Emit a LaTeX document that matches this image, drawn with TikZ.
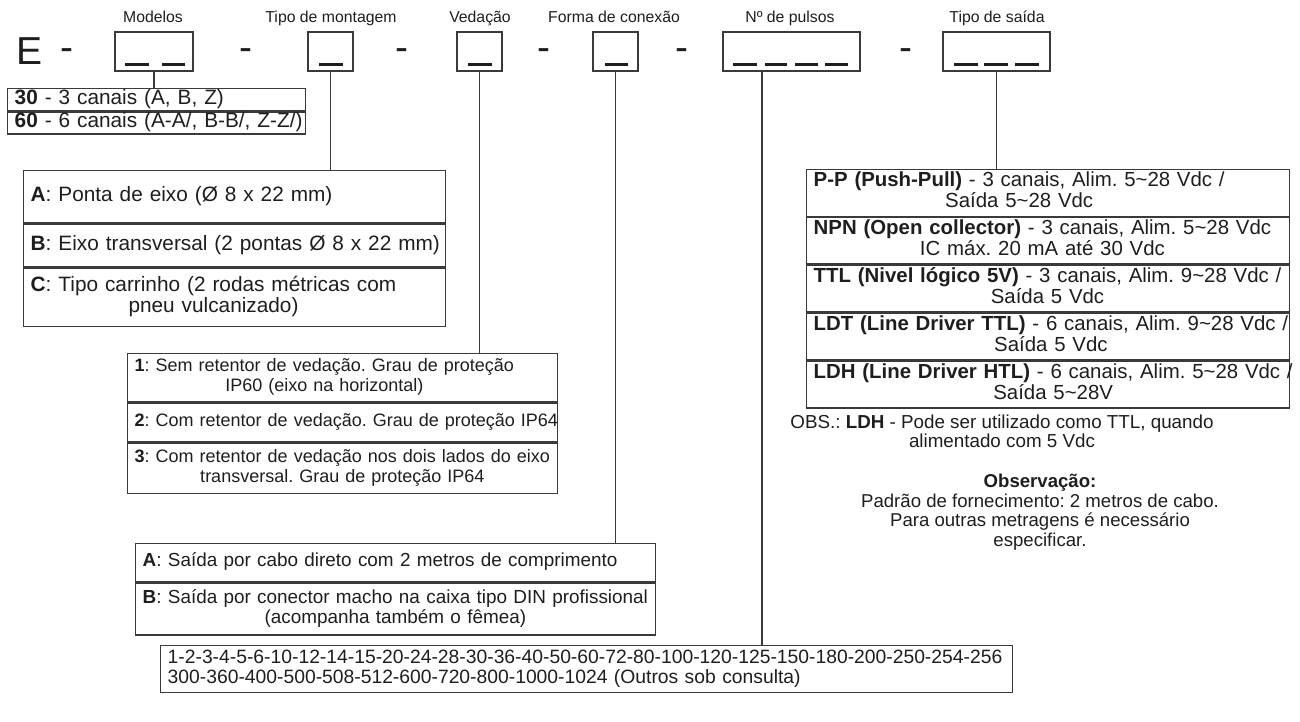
\documentclass[tikz,border=0pt]{standalone}
\usepackage{fontspec}
\setmainfont{Liberation Sans}
\usepackage{xcolor}
\usetikzlibrary{positioning}
\frenchspacing

\definecolor{ink}{HTML}{1E1E1E}
\definecolor{rule}{HTML}{3A3A3A}

\newcommand{\bodysize}{\fontsize{10.4}{10}\selectfont}
\newcommand{\vedsize}{\fontsize{9}{9.75}\selectfont}
\newcommand{\consize}{\fontsize{9.45}{9.6}\selectfont}
\newcommand{\pulsize}{\fontsize{9.65}{10}\selectfont}
\newcommand{\saisize}{\fontsize{10.2}{9.9}\selectfont}
\newcommand{\oneline}[1]{\begin{tabular}{@{}l@{}}#1\end{tabular}}
\newcommand{\twoline}[2]{\begin{tabular}{@{}c@{}}#1\\#2\end{tabular}}

\tikzset{
  every node/.style={inner sep=0pt, text=ink},
  bigchar/.style={font=\fontsize{19.5}{20}\selectfont, anchor=base},
  toplabel/.style={font=\fontsize{7.9}{9}\selectfont, anchor=base},
  codebox/.style={draw=rule, line width=0.75pt, minimum height=19.5pt},
  codebar/.style={draw=ink, line width=1.75pt},
  tabrow/.style={draw=rule, line width=0.7pt, anchor=north west,
    inner xsep=3.5pt, inner ysep=0pt, align=left, font=\bodysize,
    text width=#1},
  conn/.style={draw=rule, line width=0.6pt}
}

\begin{document}
\begin{tikzpicture}[x=0.5pt, y=-0.5pt]
  \useasboundingbox (0,0) rectangle (1300,722);

  % codigo
  \node[bigchar] (e) at (30,65) {E};
  \foreach \x in {67,246,402,544,682,906}
    \node[bigchar] (dash\x) at (\x,61) {-};

  \node[codebox, minimum width=39pt]   (mod)  at (154,51.5) {};
  \node[codebox, minimum width=22.5pt] (mont) at (330.5,51.5) {};
  \node[codebox, minimum width=22.5pt] (ved)  at (479.5,51.5) {};
  \node[codebox, minimum width=22.5pt] (con)  at (615.5,51.5) {};
  \node[codebox, minimum width=68.5pt] (pul)  at (791.5,51.5) {};
  \node[codebox, minimum width=53.5pt] (out)  at (996.5,51.5) {};

  \foreach \a/\b in {125/149,162/185,319/343,468/492,605/628,733/757,
                     765/787,795/818,825/848,954/978,984/1008,1015/1039}
    \draw[codebar] (\a,64.5) -- (\b,64.5);

  \node[toplabel] (lmod)  at (153,23) {Modelos};
  \node[toplabel] (lmont) at (331,23) {Tipo de montagem};
  \node[toplabel] (lved)  at (480,23) {Vedação};
  \node[toplabel] (lcon)  at (614,23) {Forma de conexão};
  \node[toplabel] (lpul)  at (790,23) {Nº de pulsos};
  \node[toplabel] (lout)  at (997,23) {Tipo de saída};

  % modelos
  \node[tabrow=142pt, minimum height=11pt] (mod30) at (7,88)
    {\oneline{\textbf{30} - 3 canais (A, B, Z)}};
  \node[tabrow=142pt, minimum height=11pt] (mod60) at (mod30.south west)
    {\oneline{\textbf{60} - 6 canais (A-A/, B-B/, Z-Z/)}};

  % montagem
  \node[tabrow=204pt, minimum height=26pt] (montA) at (23,170)
    {\oneline{\textbf{A}: Ponta de eixo (Ø 8 x 22 mm)}};
  \node[tabrow=204pt, minimum height=21.5pt] (montB) at (montA.south west)
    {\oneline{\textbf{B}: Eixo transversal (2 pontas Ø 8 x 22 mm)}};
  \node[tabrow=204pt, minimum height=29pt] (montC) at (montB.south west)
    {\twoline{\textbf{C}: Tipo carrinho (2 rodas métricas com}{pneu vulcanizado)}};

  % vedacao
  \node[tabrow=208pt, font=\vedsize, minimum height=24pt] (ved1) at (127,353)
    {\twoline{\textbf{1}: Sem retentor de vedação. Grau de proteção}{IP60 (eixo na horizontal)}};
  \node[tabrow=208pt, font=\vedsize, minimum height=19.5pt] (ved2) at (ved1.south west)
    {\oneline{\textbf{2}: Com retentor de vedação. Grau de proteção IP64}};
  \node[tabrow=208pt, font=\vedsize, minimum height=25pt] (ved3) at (ved2.south west)
    {\twoline{\textbf{3}: Com retentor de vedação nos dois lados do eixo}{transversal. Grau de proteção IP64}};

  % conexao
  \node[tabrow=253pt, font=\consize, minimum height=19pt] (conA) at (135,543)
    {\oneline{\textbf{A}: Saída por cabo direto com 2 metros de comprimento}};
  \node[tabrow=253pt, font=\consize, minimum height=26pt] (conB) at (conA.south west)
    {\twoline{\textbf{B}: Saída por conector macho na caixa tipo DIN profissional}{(acompanha também o fêmea)}};

  % pulsos
  \node[tabrow=419pt, font=\pulsize, minimum height=23.5pt] (pulsos) at (160,645)
    {\begin{tabular}{@{}l@{}}1-2-3-4-5-6-10-12-14-15-20-24-28-30-36-40-50-60-72-80-100-120-125-150-180-200-250-254-256\\
     300-360-400-500-508-512-600-720-800-1000-1024 (Outros sob consulta)\end{tabular}};

  % saida
  \node[tabrow=234.5pt, font=\saisize, minimum height=23.25pt] (saiPP) at (806,169)
    {\twoline{\textbf{P-P (Push-Pull)} - 3 canais, Alim. 5\textasciitilde 28 Vdc /}{Saída 5\textasciitilde 28 Vdc}};
  \node[tabrow=234.5pt, font=\saisize, minimum height=23.25pt] (saiNPN) at (saiPP.south west)
    {\twoline{\textbf{NPN (Open collector)} - 3 canais, Alim. 5\textasciitilde 28 Vdc}{IC máx. 20 mA até 30 Vdc}};
  \node[tabrow=234.5pt, font=\saisize, minimum height=23.25pt] (saiTTL) at (saiNPN.south west)
    {\twoline{\textbf{TTL (Nivel lógico 5V)} - 3 canais, Alim. 9\textasciitilde 28 Vdc /}{Saída 5 Vdc}};
  \node[tabrow=234.5pt, font=\saisize, minimum height=23.25pt] (saiLDT) at (saiTTL.south west)
    {\twoline{\textbf{LDT (Line Driver TTL)} - 6 canais, Alim. 9\textasciitilde 28 Vdc /}{Saída 5 Vdc}};
  \node[tabrow=234.5pt, font=\saisize, minimum height=23.25pt] (saiLDH) at (saiLDT.south west)
    {\twoline{\textbf{LDH (Line Driver HTL)} - 6 canais, Alim. 5\textasciitilde 28 Vdc /}{Saída 5\textasciitilde 28V}};

  \node[anchor=north west, font=\fontsize{9.4}{9.2}\selectfont] (obs) at (790,414)
    {\twoline{OBS.: \textbf{LDH} - Pode ser utilizado como TTL, quando}{alimentado com 5 Vdc}};
  \node[align=center, font=\fontsize{9.3}{9.75}\selectfont] (nota) at (1040,512)
    {\textbf{Observação:}\\Padrão de fornecimento: 2 metros de cabo.\\
     Para outras metragens é necessário\\especificar.};

  % ligacoes
  \coordinate (pulfoot) at (762,71);
  \draw[conn] (mod.south)  -- (mod.south |- mod30.north);
  \draw[conn] (mont.south) -- (mont.south |- montA.north);
  \draw[conn] (ved.south)  -- (ved.south |- ved1.north);
  \draw[conn] (con.south)  -- (con.south |- conA.north);
  \draw[conn] (pulfoot)    -- (pulfoot |- pulsos.north);
  \draw[conn] (out.south)  -- (out.south |- saiPP.north);
\end{tikzpicture}
\end{document}
